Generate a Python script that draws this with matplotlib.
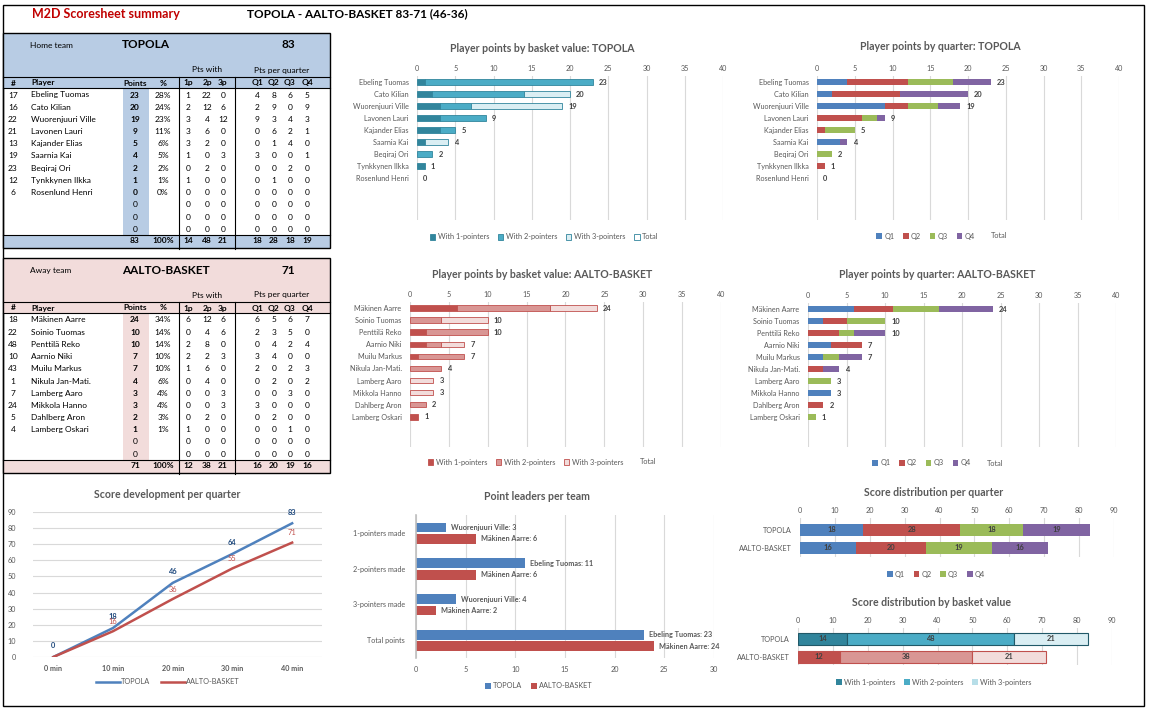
import numpy as np
import matplotlib
matplotlib.use("Agg")
from matplotlib import pyplot as plt
from matplotlib.patches import Rectangle, Patch
from matplotlib.lines import Line2D

plt.rcParams["font.family"] = ["Lato", "DejaVu Sans"]

# ---- data ----
home_team = "TOPOLA"
away_team = "AALTO-BASKET"

home_numbers = [17, 16, 22, 21, 13, 19, 23, 12, 6]
home_players = ["Ebeling Tuomas", "Cato Kilian", "Wuorenjuuri Ville", "Lavonen Lauri",
                "Kajander Elias", "Saarnia Kai", "Beqiraj Ori", "Tynkkynen Ilkka",
                "Rosenlund Henri"]
home_1p = [1, 2, 3, 3, 3, 1, 0, 1, 0]
home_2p = [22, 12, 4, 6, 2, 0, 2, 0, 0]
home_3p = [0, 6, 12, 0, 0, 3, 0, 0, 0]
home_q1 = [4, 2, 9, 0, 0, 3, 0, 0, 0]
home_q2 = [8, 9, 3, 6, 1, 0, 0, 1, 0]
home_q3 = [6, 0, 4, 2, 4, 0, 2, 0, 0]
home_q4 = [5, 9, 3, 1, 0, 1, 0, 0, 0]

away_numbers = [18, 22, 48, 10, 43, 1, 7, 24, 5, 4]
away_players = ["Mäkinen Aarre", "Soinio Tuomas", "Penttilä Reko", "Aarnio Niki",
                "Muilu Markus", "Nikula Jan-Mati.", "Lamberg Aaro", "Mikkola Hanno",
                "Dahlberg Aron", "Lamberg Oskari"]
away_1p = [6, 0, 2, 2, 1, 0, 0, 0, 0, 1]
away_2p = [12, 4, 8, 2, 6, 4, 0, 0, 2, 0]
away_3p = [6, 6, 0, 3, 0, 0, 3, 3, 0, 0]
away_q1 = [6, 2, 0, 3, 2, 0, 0, 3, 0, 0]
away_q2 = [5, 3, 4, 4, 0, 2, 0, 0, 2, 0]
away_q3 = [6, 5, 2, 0, 2, 0, 3, 0, 0, 1]
away_q4 = [7, 0, 4, 0, 3, 2, 0, 0, 0, 0]

minutes = ["0 min", "10 min", "20 min", "30 min", "40 min"]
home_cumulative = [0, 18, 46, 64, 83]
away_cumulative = [0, 16, 36, 55, 71]

leader_cats = ["1-pointers made", "2-pointers made", "3-pointers made", "Total points"]
home_leaders = ["Wuorenjuuri Ville", "Ebeling Tuomas", "Wuorenjuuri Ville", "Ebeling Tuomas"]
home_leader_vals = [3, 11, 4, 23]
away_leaders = ["Mäkinen Aarre", "Mäkinen Aarre", "Mäkinen Aarre", "Mäkinen Aarre"]
away_leader_vals = [6, 6, 2, 24]

# ---- styling ----
W, H = 1153, 711
HOME_FILL = "#b8cce4"
AWAY_FILL = "#f2dcdb"
QCOL = ["#4f81bd", "#c0504d", "#9bbb59", "#8064a2"]
TEAL = ["#31859c", "#4bacc6", "#daeef3"]
TEAL_EDGE = "#31859c"
RED = ["#c0504d", "#d99694", "#f2dcdb"]
RED_EDGE = "#c0504d"
GRAY = "#595959"
GRID = "#d9d9d9"
TITLE_SIZE = 7.6

fig = plt.figure(figsize=(W / 100, H / 100), dpi=100)


def fx(x):
    return x / W


def fy(y):
    return 1 - y / H


def px_axes(x0, y0, x1, y1):
    return fig.add_axes([fx(x0), fy(y1), (x1 - x0) / W, (y1 - y0) / H])


def ftext(x, y, s, **kw):
    kw.setdefault("va", "center")
    fig.text(fx(x), fy(y), s, **kw)


def frect(x0, y0, x1, y1, **kw):
    fig.patches.append(Rectangle((fx(x0), fy(y1)), (x1 - x0) / W, (y1 - y0) / H,
                                 transform=fig.transFigure, **kw))


def fline(x0, y0, x1, y1, lw=0.8, color="black"):
    fig.lines.append(Line2D([fx(x0), fx(x1)], [fy(y0), fy(y1)],
                            transform=fig.transFigure, lw=lw, color=color))


# outer frame and header
frect(3, 5, 1144, 706, fill=False, edgecolor="black", lw=1)
ftext(32, 14, "M2D Scoresheet summary", color="#c00000", fontsize=9, fontweight="bold")
ftext(247, 14, "%s - %s %d-%d (%d-%d)" % (home_team, away_team, home_cumulative[-1],
                                          away_cumulative[-1], home_cumulative[2],
                                          away_cumulative[2]),
      fontsize=8.5, fontweight="bold")


def draw_table(y0, label, team, numbers, players, p1, p2, p3, qs, fill):
    points = [a + b + c for a, b, c in zip(p1, p2, p3)]
    total = sum(points)
    frect(3, y0, 330, y0 + 55, facecolor=fill, edgecolor="none")
    frect(123, y0 + 55, 149, y0 + 202, facecolor=fill, edgecolor="none")
    frect(3, y0 + 202, 330, y0 + 215, facecolor=fill, edgecolor="none")
    frect(3, y0, 330, y0 + 215, fill=False, edgecolor="black", lw=1)
    fline(3, y0 + 44, 330, y0 + 44)
    fline(3, y0 + 55, 330, y0 + 55)
    fline(3, y0 + 202, 330, y0 + 202)
    fline(179, y0 + 44, 179, y0 + 216)
    fline(235, y0 + 44, 235, y0 + 216)

    ftext(30, y0 + 12, label, fontsize=6)
    ftext(122, y0 + 12, team, fontsize=8.5, fontweight="bold")
    ftext(288, y0 + 12, str(total), fontsize=8.5, fontweight="bold", ha="center")
    ftext(207, y0 + 37, "Pts with", fontsize=6, ha="center")
    ftext(282, y0 + 37, "Pts per quarter", fontsize=6, ha="center")

    cols = [13, 31, 135, 163, 188, 207, 223, 257, 274, 290, 307]
    heads = ["#", "Player", "Points", "%", "1p", "2p", "3p", "Q1", "Q2", "Q3", "Q4"]
    for cx, h in zip(cols, heads):
        ftext(cx, y0 + 50, h, fontsize=6, fontweight="bold",
              ha="left" if h == "Player" else "center")

    for r in range(12):
        yy = y0 + 62 + r * 12.2
        if r < len(players):
            ftext(cols[0], yy, str(numbers[r]), fontsize=6, ha="center")
            ftext(cols[1], yy, players[r], fontsize=6)
            ftext(cols[2], yy, str(points[r]), fontsize=6, ha="center", fontweight="bold")
            ftext(cols[3], yy, "%d%%" % round(points[r] / total * 100), fontsize=6, ha="center")
            vals = [p1[r], p2[r], p3[r]] + [q[r] for q in qs]
        else:
            ftext(cols[2], yy, "0", fontsize=6, ha="center")
            vals = [0] * 7
        for cx, v in zip(cols[4:], vals):
            ftext(cx, yy, str(v), fontsize=6, ha="center")

    yy = y0 + 208
    sums = [sum(p1), sum(p2), sum(p3)] + [sum(q) for q in qs]
    ftext(cols[2], yy, str(total), fontsize=6, ha="center", fontweight="bold")
    ftext(cols[3], yy, "100%", fontsize=6, ha="center", fontweight="bold")
    for cx, v in zip(cols[4:], sums):
        ftext(cx, yy, str(v), fontsize=6, ha="center", fontweight="bold")


draw_table(33, "Home team", home_team, home_numbers, home_players, home_1p, home_2p,
           home_3p, [home_q1, home_q2, home_q3, home_q4], HOME_FILL)
draw_table(258, "Away team", away_team, away_numbers, away_players, away_1p, away_2p,
           away_3p, [away_q1, away_q2, away_q3, away_q4], AWAY_FILL)


def style_axes(ax):
    for s in ax.spines.values():
        s.set_visible(False)
    ax.tick_params(length=0, labelsize=5.2, labelcolor=GRAY)
    ax.set_axisbelow(True)


def player_chart(box, names, segs, colors, edge, title, title_x, title_y):
    ax = px_axes(*box)
    style_axes(ax)
    y = np.arange(len(names))
    left = np.zeros(len(names))
    for vals, c in zip(segs, colors):
        vals = np.array(vals, dtype=float)
        m = vals > 0
        ax.barh(y[m], vals[m], left=left[m], height=0.45, color=c,
                edgecolor=edge if edge else "none", lw=0.6)
        left += vals
    for yi, t in zip(y, left):
        ax.text(t + 0.8, yi, str(int(t)), va="center", fontsize=5.4,
                fontweight="bold", color="#404040")
    ax.set_xlim(0, 40)
    ax.set_ylim(11.5, -0.5)
    ax.set_yticks(y, names)
    ax.xaxis.tick_top()
    ax.set_xticks(range(0, 41, 5))
    ax.xaxis.grid(True, color=GRID, lw=0.8)
    ax.tick_params(axis="y", pad=6)
    ax.tick_params(axis="x", pad=3)
    ftext(title_x, title_y, title, fontsize=TITLE_SIZE, fontweight="bold", color=GRAY,
          ha="center")
    return ax


def fig_legend(handles, labels, x, y, ncol):
    fig.legend(handles, labels, loc="center", bbox_to_anchor=(fx(x), fy(y)), ncol=ncol,
               frameon=False, fontsize=5.3, handlelength=0.75, handleheight=0.75,
               columnspacing=1.2, handletextpad=0.3, labelcolor=GRAY)


basket_labels = ["With 1-pointers", "With 2-pointers", "With 3-pointers", "Total"]
quarter_labels = ["Q1", "Q2", "Q3", "Q4", "Total"]

player_chart((417, 76, 723, 220), home_players, [home_1p, home_2p, home_3p], TEAL,
             TEAL_EDGE, "Player points by basket value: %s" % home_team, 542, 48)
fig_legend([Patch(facecolor=c, edgecolor=TEAL_EDGE, lw=0.6) for c in TEAL]
           + [Patch(facecolor="white", edgecolor=TEAL_EDGE, lw=0.6)],
           basket_labels, 544, 237, 4)

player_chart((817, 76, 1119, 220), home_players, [home_q1, home_q2, home_q3, home_q4],
             QCOL, None, "Player points by quarter: %s" % home_team, 940, 47)
fig_legend([Patch(facecolor=c) for c in QCOL] + [Patch(facecolor="none", edgecolor="none")],
           quarter_labels, 942, 236, 5)

player_chart((410, 302, 721, 447), away_players, [away_1p, away_2p, away_3p], RED,
             RED_EDGE, "Player points by basket value: %s" % away_team, 542, 275)
fig_legend([Patch(facecolor=c, edgecolor=RED_EDGE, lw=0.6) for c in RED]
           + [Patch(facecolor="none", edgecolor="none")],
           basket_labels, 542, 462, 4)

player_chart((808, 303, 1116, 447), away_players, [away_q1, away_q2, away_q3, away_q4],
             QCOL, None, "Player points by quarter: %s" % away_team, 937, 275)
fig_legend([Patch(facecolor=c) for c in QCOL] + [Patch(facecolor="none", edgecolor="none")],
           quarter_labels, 938, 463, 5)

# ---- score development ----
ax5 = px_axes(33, 512, 322, 657)
style_axes(ax5)
xs = np.arange(len(minutes))
ax5.plot(xs, home_cumulative, color=QCOL[0], lw=1.8)
ax5.plot(xs, away_cumulative, color=QCOL[1], lw=1.8)
for xi, v in zip(xs, home_cumulative):
    ax5.annotate(str(v), (xi, v), xytext=(0, 8), textcoords="offset points", ha="center",
                 va="center", fontsize=5.4, fontweight="bold", color="#1f497d")
for xi, v in zip(xs[1:], away_cumulative[1:]):
    ax5.annotate(str(v), (xi, v), xytext=(0, 7), textcoords="offset points", ha="center",
                 va="center", fontsize=5.4, color=QCOL[1])
ax5.set_ylim(0, 90)
ax5.set_yticks(range(0, 91, 10))
ax5.set_xlim(-0.34, 4.5)
ax5.set_xticks(xs, minutes)
for t in ax5.get_xticklabels():
    t.set_fontweight("bold")
ax5.yaxis.grid(True, color=GRID, lw=0.8)
ax5.tick_params(axis="y", pad=12)
ax5.tick_params(axis="x", pad=6)
ftext(167, 494, "Score development per quarter", fontsize=TITLE_SIZE, fontweight="bold",
      color=GRAY, ha="center")
fig.legend([Line2D([], [], color=QCOL[0], lw=1.8), Line2D([], [], color=QCOL[1], lw=1.8)],
           [home_team, away_team], loc="center", bbox_to_anchor=(fx(168), fy(682)), ncol=2,
           frameon=False, fontsize=5.3, handlelength=3.2, handletextpad=0.2,
           columnspacing=1.5, labelcolor=GRAY)

# ---- point leaders ----
ax6 = px_axes(416, 515, 714, 658)
style_axes(ax6)
ax6.spines["left"].set_visible(True)
ax6.spines["left"].set_color("#bfbfbf")
ax6.spines["left"].set_linewidth(1.2)
yc = np.arange(len(leader_cats))
ax6.barh(yc - 0.15, home_leader_vals, height=0.27, color=QCOL[0])
ax6.barh(yc + 0.17, away_leader_vals, height=0.27, color=QCOL[1])
for yi, n, v in zip(yc, home_leaders, home_leader_vals):
    ax6.text(v + 0.5, yi - 0.15, "%s: %d" % (n, v), va="center", fontsize=5.2,
             fontweight="bold", color=GRAY)
for yi, n, v in zip(yc, away_leaders, away_leader_vals):
    ax6.text(v + 0.5, yi + 0.17, "%s: %d" % (n, v), va="center", fontsize=5.2,
             fontweight="bold", color=GRAY)
ax6.set_xlim(0, 30)
ax6.set_ylim(3.5, -0.5)
ax6.set_yticks(yc, leader_cats)
ax6.set_xticks(range(0, 31, 5))
ax6.xaxis.grid(True, color=GRID, lw=0.8)
ax6.tick_params(axis="y", pad=8)
ax6.tick_params(axis="x", pad=6)
ftext(537, 497, "Point leaders per team", fontsize=TITLE_SIZE, fontweight="bold",
      color=GRAY, ha="center")
fig_legend([Patch(facecolor=QCOL[0]), Patch(facecolor=QCOL[1])], [home_team, away_team],
           539, 686, 2)

# ---- score distribution per quarter ----
teams = [home_team, away_team]
home_quarters = [sum(home_q1), sum(home_q2), sum(home_q3), sum(home_q4)]
away_quarters = [sum(away_q1), sum(away_q2), sum(away_q3), sum(away_q4)]
ax7 = px_axes(800, 518, 1114, 557)
style_axes(ax7)
lefts = np.zeros(2)
for i in range(4):
    vals = np.array([home_quarters[i], away_quarters[i]])
    ax7.barh([0, 1], vals, left=lefts, height=0.65, color=QCOL[i])
    for yi in range(2):
        ax7.text(lefts[yi] + vals[yi] / 2, yi, str(vals[yi]), ha="center", va="center",
                 fontsize=5.4, fontweight="bold", color="#404040")
    lefts += vals
ax7.set_xlim(0, 90)
ax7.set_ylim(1.5, -0.65)
ax7.set_yticks([0, 1], teams)
ax7.xaxis.tick_top()
ax7.set_xticks(range(0, 91, 10))
ax7.xaxis.grid(True, color=GRID, lw=0.8)
ax7.tick_params(axis="y", pad=6)
ax7.tick_params(axis="x", pad=3)
ftext(934, 493, "Score distribution per quarter", fontsize=TITLE_SIZE, fontweight="bold",
      color=GRAY, ha="center")
fig_legend([Patch(facecolor=c) for c in QCOL], quarter_labels[:4], 936, 574, 4)

# ---- score distribution by basket value ----
home_basket = [sum(home_1p), sum(home_2p), sum(home_3p)]
away_basket = [sum(away_1p), sum(away_2p), sum(away_3p)]
ax8 = px_axes(798, 628, 1112, 665)
style_axes(ax8)
lh, la = 0, 0
for i in range(3):
    ax8.barh(0, home_basket[i], left=lh, height=0.65, color=TEAL[i],
             edgecolor="#215968", lw=0.8)
    ax8.text(lh + home_basket[i] / 2, 0, str(home_basket[i]), ha="center", va="center",
             fontsize=5.4, fontweight="bold", color="#404040")
    ax8.barh(1, away_basket[i], left=la, height=0.65, color=RED[i], edgecolor=RED_EDGE, lw=0.8)
    ax8.text(la + away_basket[i] / 2, 1, str(away_basket[i]), ha="center", va="center",
             fontsize=5.4, fontweight="bold", color="#404040")
    lh += home_basket[i]
    la += away_basket[i]
ax8.set_xlim(0, 90)
ax8.set_ylim(1.45, -0.6)
ax8.set_yticks([0, 1], teams)
ax8.xaxis.tick_top()
ax8.set_xticks(range(0, 91, 10))
ax8.xaxis.grid(True, color=GRID, lw=0.8)
ax8.tick_params(axis="y", pad=6)
ax8.tick_params(axis="x", pad=3)
ftext(932, 603, "Score distribution by basket value", fontsize=TITLE_SIZE, fontweight="bold",
      color=GRAY, ha="center")
fig_legend([Patch(facecolor="#31859c"), Patch(facecolor="#4bacc6"), Patch(facecolor="#b7dee8")],
           basket_labels[:3], 934, 682, 3)

fig.savefig("out.png", dpi=100, facecolor="white")
